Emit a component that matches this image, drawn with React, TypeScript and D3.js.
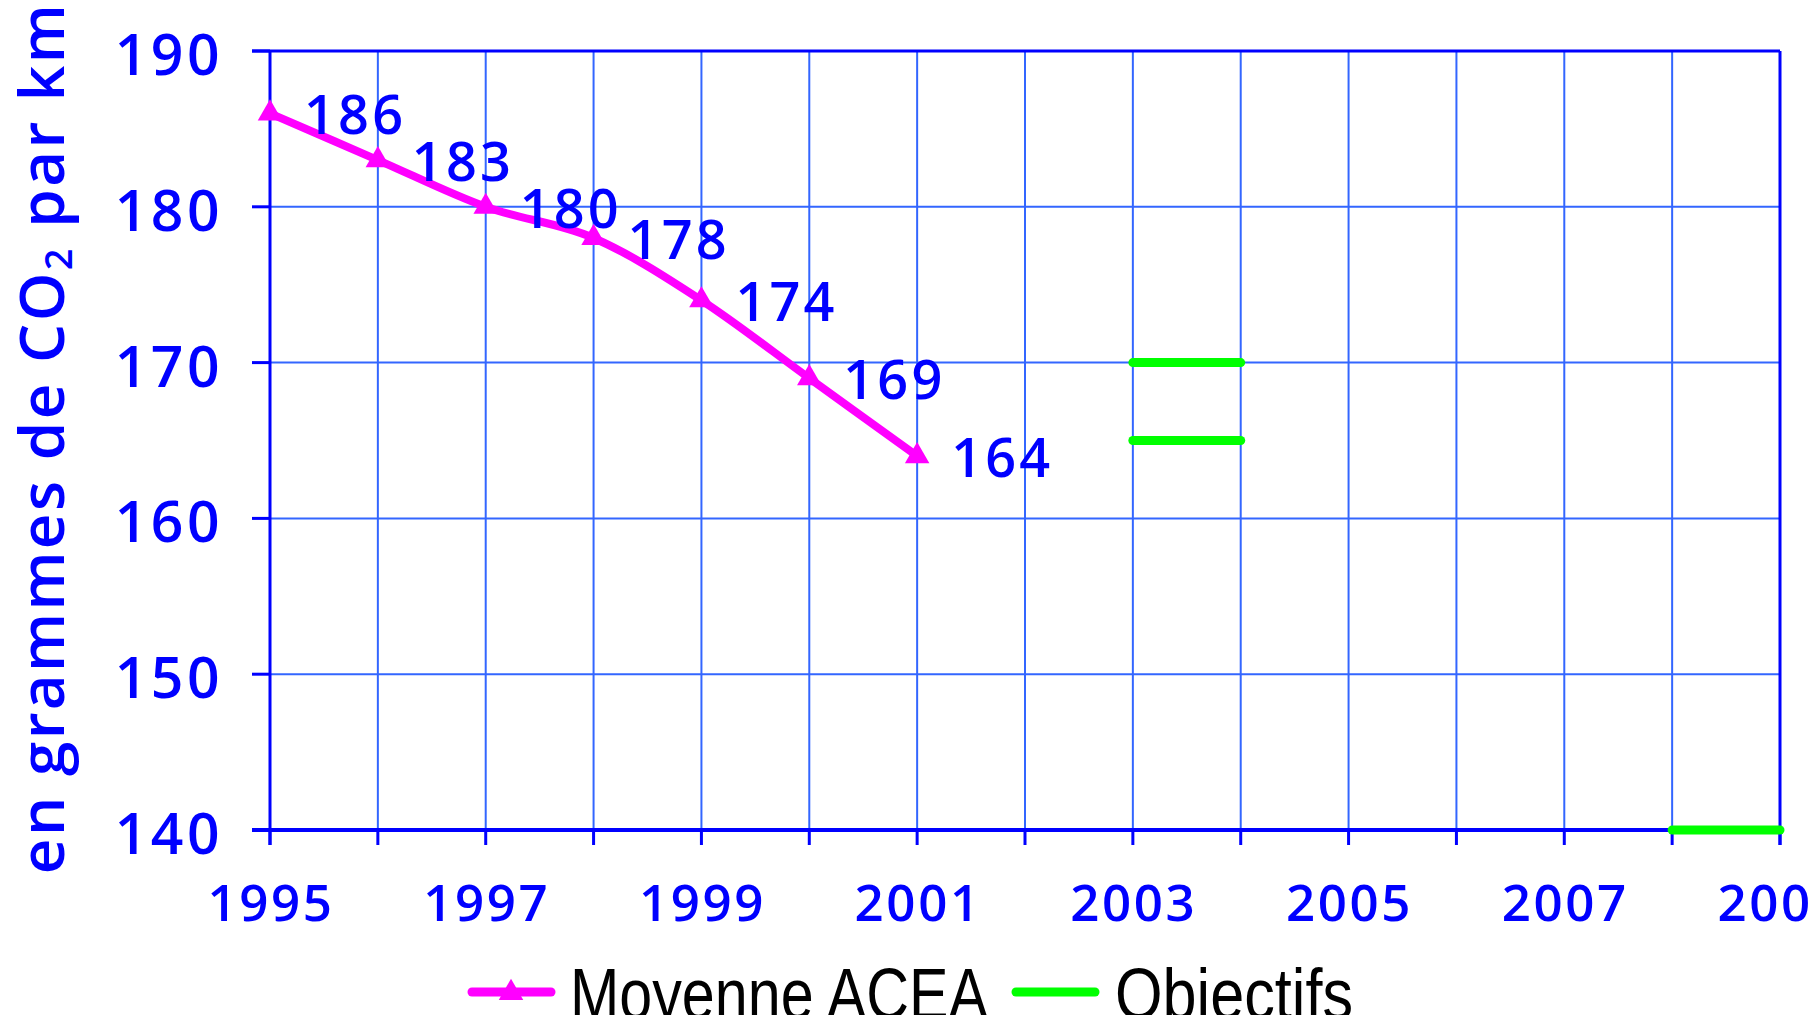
import React from 'react';
import * as d3 from 'd3';

// series: moyenne ACEA
const years = [1995, 1996, 1997, 1998, 1999, 2000, 2001];
const acea = [186, 183, 180, 178, 174, 169, 164];

// objectifs (horizontal segments)
const goalStart = [2003, 2003, 2008];
const goalEnd = [2004, 2004, 2009];
const goalValues = [170, 165, 140];

const yTicks = [140, 150, 160, 170, 180, 190];
const xLabels = [1995, 1997, 1999, 2001, 2003, 2005, 2007, 2009];
const xTickYears = d3.range(1995, 2010);

const W = 1814;
const H = 1015;
const left = 270;
const right = 1780;
const top = 51;
const bottom = 830;

const BLUE = '#0000FF';
const GRID = '#3366FF';
const MAGENTA = '#FF00FF';
const GREEN = '#00FF00';
const FONT = "'Open Sans', 'Noto Sans', sans-serif";
const NARROW = "'Liberation Sans Narrow', 'Liberation Sans', Arial, sans-serif";

export default function App() {
  const x = d3.scaleLinear().domain([1995, 2009]).range([left, right]);
  const y = d3.scaleLinear().domain([140, 190]).range([bottom, top]);

  const line = d3
    .line<number>()
    .x((d, i) => x(years[i]))
    .y(d => y(d))
    .curve(d3.curveCatmullRom.alpha(0));

  const tri = d3.symbol().type(d3.symbolTriangle).size(260)();

  return (
    <svg width={W} height={H} style={{ position: 'absolute', left: 0, top: 0, background: '#fff' }}>
      {/* grid */}
      {xTickYears.map(yr => (
        <line key={'gx' + yr} x1={x(yr)} x2={x(yr)} y1={top} y2={bottom} stroke={GRID} strokeWidth={2} />
      ))}
      {yTicks.map(t => (
        <line key={'gy' + t} x1={left} x2={right} y1={y(t)} y2={y(t)} stroke={GRID} strokeWidth={2} />
      ))}
      {/* frame: top & right */}
      <line x1={left - 18} x2={right} y1={y(190)} y2={y(190)} stroke={BLUE} strokeWidth={3} />
      <line x1={right} x2={right} y1={top} y2={bottom + 15} stroke={BLUE} strokeWidth={3} />
      {/* axes */}
      <line x1={left} x2={left} y1={top} y2={bottom + 15} stroke={BLUE} strokeWidth={3} />
      <line x1={left - 18} x2={right} y1={bottom} y2={bottom} stroke={BLUE} strokeWidth={4} />
      {yTicks.map(t => (
        <line key={'ty' + t} x1={left - 18} x2={left} y1={y(t)} y2={y(t)} stroke={BLUE} strokeWidth={3} />
      ))}
      {xTickYears.map(yr => (
        <line key={'tx' + yr} x1={x(yr)} x2={x(yr)} y1={bottom} y2={bottom + 15} stroke={BLUE} strokeWidth={3} />
      ))}
      {/* tick labels */}
      {yTicks.map(t => (
        <text
          key={'ly' + t}
          x={left - 47}
          y={y(t) + 4}
          dy="0.35em"
          textAnchor="end"
          fill={BLUE}
          fontFamily={FONT}
          fontWeight={600}
          fontSize={57}
          letterSpacing={3.5}
        >
          {t}
        </text>
      ))}
      {xLabels.map(yr => (
        <text
          key={'lx' + yr}
          x={x(yr) + 1}
          y={921}
          textAnchor="middle"
          fill={BLUE}
          fontFamily={FONT}
          fontWeight={600}
          fontSize={51}
          letterSpacing={2.6}
        >
          {yr}
        </text>
      ))}
      {/* y title */}
      <text
        transform={`translate(64,438) rotate(-90)`}
        textAnchor="middle"
        fill={BLUE}
        fontFamily={FONT}
        fontWeight={600}
        fontSize={62}
        letterSpacing={2.3}
      >
        en grammes de CO<tspan fontSize={38} dy={8}>2</tspan>
        <tspan dy={-8}> par km</tspan>
      </text>
      {/* objectifs */}
      {goalValues.map((v, i) => (
        <line
          key={'g' + i}
          x1={x(goalStart[i])}
          x2={x(goalEnd[i])}
          y1={y(v)}
          y2={y(v)}
          stroke={GREEN}
          strokeWidth={9}
          strokeLinecap="round"
        />
      ))}
      {/* moyenne ACEA */}
      <path d={line(acea) || ''} fill="none" stroke={MAGENTA} strokeWidth={8} strokeLinejoin="round" />
      {acea.map((v, i) => (
        <path key={'m' + i} d={tri || ''} transform={`translate(${x(years[i])},${y(v)})`} fill={MAGENTA} />
      ))}
      {acea.map((v, i) => (
        <text
          key={'d' + i}
          x={x(years[i]) + 34}
          y={y(v) + 2}
          dy="0.35em"
          fill={BLUE}
          fontFamily={FONT}
          fontWeight={600}
          fontSize={54}
          letterSpacing={3.2}
        >
          {v}
        </text>
      ))}
      {/* legend */}
      <line x1={472} x2={551} y1={992} y2={992} stroke={MAGENTA} strokeWidth={9} strokeLinecap="round" />
      <path d={tri || ''} transform="translate(511,993)" fill={MAGENTA} />
      <text x={570} y={1019} fill="#000" fontFamily={NARROW} fontSize={72} textLength={418} lengthAdjust="spacingAndGlyphs">
        Moyenne ACEA
      </text>
      <line x1={1016} x2={1095} y1={992} y2={992} stroke={GREEN} strokeWidth={9} strokeLinecap="round" />
      <text x={1115} y={1019} fill="#000" fontFamily={NARROW} fontSize={72} textLength={238} lengthAdjust="spacingAndGlyphs">
        Objectifs
      </text>
    </svg>
  );
}
